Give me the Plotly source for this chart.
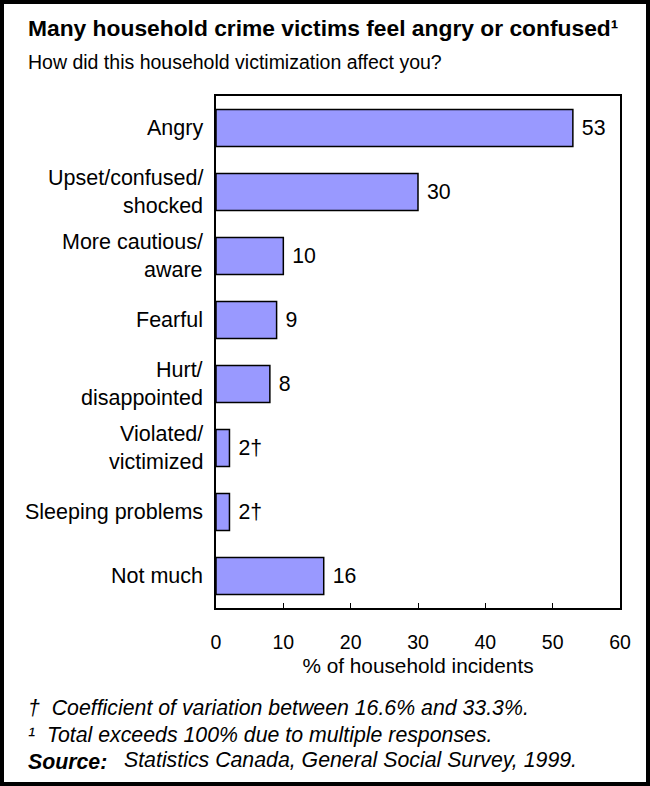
import plotly.graph_objects as go

# Survey responses: effect of household victimization
categories = [
    "Angry",
    "Upset/confused/<br>shocked",
    "More cautious/<br>aware",
    "Fearful",
    "Hurt/<br>disappointed",
    "Violated/<br>victimized",
    "Sleeping problems",
    "Not much",
]
percent = [53, 30, 10, 9, 8, 2, 2, 16]
flags = ["", "", "", "", "", "†", "†", ""]
x_ticks = [0, 10, 20, 30, 40, 50, 60]

W, H = 650, 786
ML, MR, MT, MB = 216, 30, 96, 178
PW, PH = W - ML - MR, H - MT - MB

FONT = "Liberation Sans, Arial, sans-serif"
FS = 21.3

labels = [f" {v}{f}" for v, f in zip(percent, flags)]

fig = go.Figure(
    go.Bar(
        x=percent,
        y=categories,
        orientation="h",
        marker=dict(color="#9999FF", line=dict(color="black", width=1.5)),
        width=0.58,
        text=labels,
        textposition="outside",
        textfont=dict(size=FS, color="black", family=FONT),
        cliponaxis=False,
        hoverinfo="skip",
    )
)


def px_x(px):
    return (px - ML) / PW


def px_y(py):
    return (H - MB - py) / PH


# Category labels drawn line by line for wider line spacing
annotations = []
LINE = 28
for cat in categories:
    lines = cat.split("<br>")
    n = len(lines)
    for i, line in enumerate(lines):
        annotations.append(dict(
            x=0, xref="paper", y=cat, yref="y",
            text=line, showarrow=False,
            xanchor="right", yanchor="middle",
            xshift=-11, yshift=(n - 1) / 2 * LINE - i * LINE,
            font=dict(size=21.5, color="black", family=FONT),
        ))

# Title, subtitle and footnotes
annotations += [
    dict(x=px_x(26), y=px_y(28), xref="paper", yref="paper",
         text="<b>Many household crime victims feel angry or confused¹</b>",
         showarrow=False, xanchor="left", yanchor="middle",
         font=dict(size=22.8, color="black", family=FONT)),
    dict(x=px_x(26), y=px_y(62), xref="paper", yref="paper",
         text="How did this household victimization affect you?",
         showarrow=False, xanchor="left", yanchor="middle",
         font=dict(size=19.5, color="black", family=FONT)),
    dict(x=px_x(26), y=px_y(708), xref="paper", yref="paper",
         text="<i>†  Coefficient of variation between 16.6% and 33.3%.</i>",
         showarrow=False, xanchor="left", yanchor="middle",
         font=dict(size=FS, color="black", family=FONT)),
    dict(x=px_x(26), y=px_y(735), xref="paper", yref="paper",
         text="<i>¹  Total exceeds 100% due to multiple responses.</i>",
         showarrow=False, xanchor="left", yanchor="middle",
         font=dict(size=FS, color="black", family=FONT)),
    dict(x=px_x(26), y=px_y(762), xref="paper", yref="paper",
         text="<b><i>Source:</i></b>",
         showarrow=False, xanchor="left", yanchor="middle",
         font=dict(size=FS, color="black", family=FONT)),
    dict(x=px_x(122), y=px_y(760), xref="paper", yref="paper",
         text="<i>Statistics Canada, General Social Survey, 1999.</i>",
         showarrow=False, xanchor="left", yanchor="middle",
         font=dict(size=FS, color="black", family=FONT)),
]

fig.update_layout(
    width=W, height=H,
    margin=dict(l=ML, r=MR, t=MT, b=MB, pad=0),
    paper_bgcolor="white", plot_bgcolor="white",
    showlegend=False,
    bargap=0.42,
    annotations=annotations,
    shapes=[dict(
        type="rect", xref="paper", yref="paper",
        x0=px_x(2), x1=px_x(648), y0=px_y(784), y1=px_y(2),
        line=dict(color="black", width=4), fillcolor="rgba(0,0,0,0)",
        layer="above",
    )],
    xaxis=dict(
        range=[0, 60], tickvals=x_ticks, ticktext=[str(t) for t in x_ticks],
        showgrid=False, zeroline=False,
        showline=True, linecolor="black", linewidth=1.5, mirror=True,
        ticks="inside", ticklen=5, tickcolor="black", tickwidth=1,
        ticklabelstandoff=16,
        tickfont=dict(size=19.5, color="black", family=FONT),
        title=dict(text="% of household incidents", standoff=6,
                   font=dict(size=20.8, color="black", family=FONT)),
        fixedrange=True,
    ),
    yaxis=dict(
        categoryorder="array", categoryarray=categories,
        autorange="reversed",
        showticklabels=False, ticks="",
        showgrid=False, zeroline=False,
        showline=True, linecolor="black", linewidth=1.5, mirror=True,
        fixedrange=True,
    ),
)

fig.write_html("out.html")
